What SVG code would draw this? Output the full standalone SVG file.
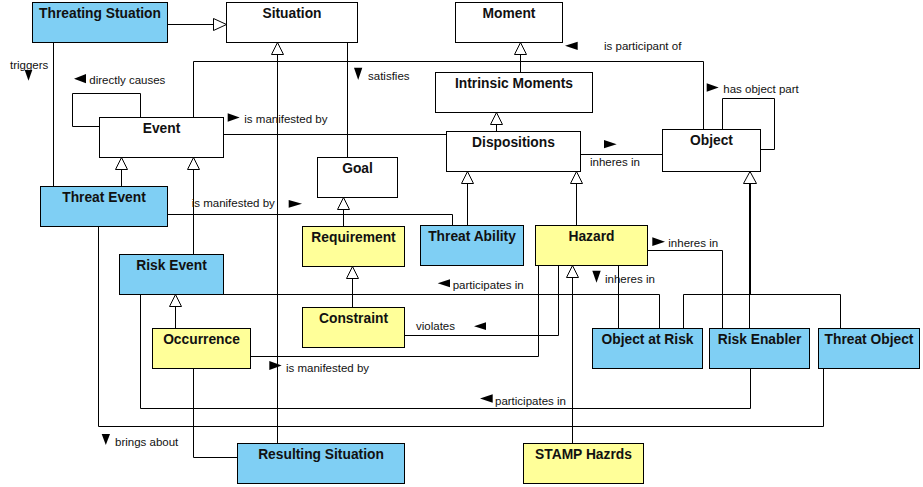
<svg xmlns="http://www.w3.org/2000/svg" width="923" height="487" viewBox="0 0 923 487">
<style>
.n rect{stroke:#000;stroke-width:1}
.w rect{fill:#fff}
.b rect{fill:#7fcff4}
.y rect{fill:#ffff99}
.n text{font-family:"Liberation Sans",Arial,sans-serif;font-weight:bold;font-size:13.8px;text-anchor:middle;fill:#111}
#edges path{fill:none;stroke:#000;stroke-width:1}
#edges .thick{stroke-width:2}
.gen{fill:#fff;stroke:#000;stroke-width:1}
.dir{fill:#000}
.lbl{font-family:"Liberation Sans",Arial,sans-serif;font-size:11.5px;fill:#111}
</style>
<rect width="923" height="487" fill="#fff"/>
<g id="edges">
<path d="M167.5,24.5 H214"/>
<path d="M53.5,42.5 V186.5"/>
<path d="M277.5,54.5 V443.5"/>
<path d="M347.5,42.5 V157.5"/>
<path d="M140.5,117.5 V93.5 H72.5 V126.5 H99.5"/>
<path d="M193.5,117.5 V61.5 H703.5 V129.5"/>
<path d="M223.5,134.5 H446.5"/>
<path d="M520.5,72.5 V54.5"/>
<path d="M496.5,131.5 V124.5"/>
<path d="M580.5,154.5 H662.5"/>
<path d="M722.5,129.5 V98.5 H774.5 V149.5 H760.5"/>
<path class="thick" d="M750,183.5 V294.5"/>
<path d="M683.5,328.5 V294.5 H840.5 V328.5"/>
<path d="M749.5,294.5 V328.5"/>
<path d="M467.5,225.5 V183.5"/>
<path d="M576.5,225.5 V183.5"/>
<path d="M121.5,186.5 V169.5"/>
<path d="M193.5,254.5 V169.5"/>
<path d="M167.5,214.5 H452.5 V225.5"/>
<path d="M343.5,226.5 V209.5"/>
<path d="M352.5,307.5 V278.5"/>
<path d="M175.5,328.5 V306.5"/>
<path d="M98.5,226.5 V426.5 H823.5 V368.5"/>
<path d="M140.5,294.5 V408.5 H750.5 V368.5"/>
<path d="M223.5,294.5 H659.5 V328.5"/>
<path d="M404.5,335.5 H558.5 V265.5"/>
<path d="M250.5,356.5 H538.5 V265.5"/>
<path d="M647.5,250.5 H722.5 V328.5"/>
<path d="M618.5,265.5 V328.5"/>
<path d="M572.5,443.5 V277.5"/>
<path d="M193.5,368.5 V457.5 H237.5"/>
<polygon class="gen" points="226.5,24.5 213.5,18.5 213.5,30.5"/>
<polygon class="gen" points="277.5,42.5 271.5,54.5 283.5,54.5"/>
<polygon class="gen" points="520.5,42.5 514.5,54.5 526.5,54.5"/>
<polygon class="gen" points="496.5,112.5 490.5,124.5 502.5,124.5"/>
<polygon class="gen" points="750,171.5 743.5,183.5 756.5,183.5"/>
<polygon class="gen" points="467.5,171.5 461.5,183.5 473.5,183.5"/>
<polygon class="gen" points="576.5,171.5 570.5,183.5 582.5,183.5"/>
<polygon class="gen" points="121.5,157.5 115.5,169.5 127.5,169.5"/>
<polygon class="gen" points="193.5,157.5 187.5,169.5 199.5,169.5"/>
<polygon class="gen" points="343.5,197.5 337.5,209.5 349.5,209.5"/>
<polygon class="gen" points="352.5,266.5 346.5,278.5 358.5,278.5"/>
<polygon class="gen" points="175.5,294.5 169.5,306.5 181.5,306.5"/>
<polygon class="gen" points="572.5,265.5 566.5,277.5 578.5,277.5"/>
<polygon class="dir" points="24.7,70 32.3,70 28.5,80.7"/>
<polygon class="dir" points="354,67.7 362.3,67.7 358.2,80"/>
<polygon class="dir" points="74,78.7 86,74 86,83.3"/>
<polygon class="dir" points="565,45.8 577.7,41.7 577.7,50"/>
<polygon class="dir" points="227.7,113.3 227.7,121.7 239.7,117.5"/>
<polygon class="dir" points="604,140 604,148.3 616.7,144.2"/>
<polygon class="dir" points="706.7,83.3 706.7,91.7 718.7,87.5"/>
<polygon class="dir" points="288.7,200 288.7,207.7 302,203.8"/>
<polygon class="dir" points="437.7,283.3 450,279.3 450,287.3"/>
<polygon class="dir" points="474,326.2 486,322.3 486,330"/>
<polygon class="dir" points="269.3,361 269.3,370 281.7,365.5"/>
<polygon class="dir" points="652.3,237.3 652.3,246 665,241.7"/>
<polygon class="dir" points="592.3,270.7 600.7,270.7 596.5,282.7"/>
<polygon class="dir" points="480,398.5 492.7,394.3 492.7,402.7"/>
<polygon class="dir" points="101.7,434 110,434 105.8,445"/>
<text class="lbl" x="10" y="69">triggers</text>
<text class="lbl" x="368" y="80">satisfies</text>
<text class="lbl" x="89.3" y="84.3">directly causes</text>
<text class="lbl" x="604" y="50">is participant of</text>
<text class="lbl" x="244.3" y="123.3">is manifested by</text>
<text class="lbl" x="590" y="166">inheres in</text>
<text class="lbl" x="723.3" y="93.3">has object part</text>
<text class="lbl" x="191.7" y="207.3">is manifested by</text>
<text class="lbl" x="452.7" y="289.3">participates in</text>
<text class="lbl" x="416" y="330">violates</text>
<text class="lbl" x="286" y="371.5">is manifested by</text>
<text class="lbl" x="668.3" y="247.3">inheres in</text>
<text class="lbl" x="605" y="283.3">inheres in</text>
<text class="lbl" x="495" y="405">participates in</text>
<text class="lbl" x="115" y="446">brings about</text>
</g>
<g id="threating-stuation" class="n b"><rect x="32.5" y="2.5" width="135" height="40"/><text x="100" y="17.5">Threating Stuation</text></g>
<g id="situation" class="n w"><rect x="226.5" y="2.5" width="131" height="40"/><text x="292" y="17.5">Situation</text></g>
<g id="moment" class="n w"><rect x="455.5" y="2.5" width="107" height="40"/><text x="509" y="17.5">Moment</text></g>
<g id="intrinsic-moments" class="n w"><rect x="435.5" y="72.5" width="157" height="40"/><text x="514" y="87.5">Intrinsic Moments</text></g>
<g id="dispositions" class="n w"><rect x="446.5" y="131.5" width="134" height="40"/><text x="513.5" y="146.5">Dispositions</text></g>
<g id="object" class="n w"><rect x="662.5" y="129.5" width="98" height="42"/><text x="711.5" y="144.5">Object</text></g>
<g id="event" class="n w"><rect x="99.5" y="117.5" width="124" height="40"/><text x="161.5" y="132.5">Event</text></g>
<g id="goal" class="n w"><rect x="317.5" y="157.5" width="80" height="40"/><text x="357.5" y="172.5">Goal</text></g>
<g id="threat-event" class="n b"><rect x="40.5" y="186.5" width="127" height="40"/><text x="104" y="201.5">Threat Event</text></g>
<g id="requirement" class="n y"><rect x="302.5" y="226.5" width="102" height="40"/><text x="353.5" y="241.5">Requirement</text></g>
<g id="threat-ability" class="n b"><rect x="420.5" y="225.5" width="103" height="40"/><text x="472" y="240.5">Threat Ability</text></g>
<g id="hazard" class="n y"><rect x="535.5" y="225.5" width="112" height="40"/><text x="591.5" y="240.5">Hazard</text></g>
<g id="risk-event" class="n b"><rect x="119.5" y="254.5" width="104" height="40"/><text x="171.5" y="269.5">Risk Event</text></g>
<g id="constraint" class="n y"><rect x="302.5" y="307.5" width="102" height="40"/><text x="353.5" y="322.5">Constraint</text></g>
<g id="occurrence" class="n y"><rect x="152.5" y="328.5" width="98" height="40"/><text x="201.5" y="343.5">Occurrence</text></g>
<g id="object-at-risk" class="n b"><rect x="592.5" y="328.5" width="110" height="40"/><text x="647.5" y="343.5">Object at Risk</text></g>
<g id="risk-enabler" class="n b"><rect x="709.5" y="328.5" width="100" height="40"/><text x="759.5" y="343.5">Risk Enabler</text></g>
<g id="threat-object" class="n b"><rect x="818.5" y="328.5" width="101" height="40"/><text x="869" y="343.5">Threat Object</text></g>
<g id="resulting-situation" class="n b"><rect x="237.5" y="443.5" width="167" height="40"/><text x="321" y="458.5">Resulting Situation</text></g>
<g id="stamp-hazrds" class="n y"><rect x="523.5" y="443.5" width="120" height="40"/><text x="583.5" y="458.5">STAMP Hazrds</text></g>
</svg>
